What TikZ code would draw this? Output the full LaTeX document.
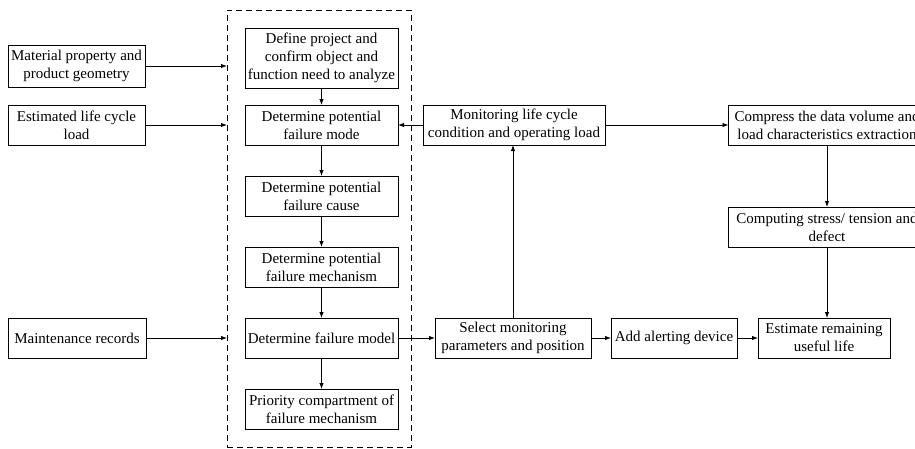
\documentclass[tikz,border=0pt]{standalone}
\usepackage{fontspec}
\setmainfont{Liberation Serif}
\usetikzlibrary{positioning,arrows.meta}

\begin{document}
\begin{tikzpicture}[x=1pt,y=-1pt,
		font=\fontsize{15}{18}\selectfont,
		box/.style={draw, line width=0.9pt, align=center, minimum height=40pt, inner sep=1pt, outer sep=0pt},
		arr/.style={-{Latex[length=6pt,width=4.5pt]}, line width=0.9pt}]
		\clip (0,0) rectangle (915,448);
		% dashed frame round the analysis steps
		\node (frame) [draw, dash pattern=on 6pt off 4pt, line width=0.9pt, minimum width=184pt, minimum height=437pt, inner sep=0pt, outer sep=0pt] at (319,228.5) {};
		% analysis column
		\node (define) [box, minimum width=153pt, minimum height=60pt] at (321.5,58) {Define project and\\confirm object and\\function need to analyze};
		\node (mode) [box, minimum width=153pt, below=17pt of define] {Determine potential\\failure mode};
		\node (cause) [box, minimum width=153pt, below=31pt of mode] {Determine potential\\failure cause};
		\node (mech) [box, minimum width=153pt, below=31pt of cause] {Determine potential\\failure mechanism};
		\node (model) [box, minimum width=153pt, below=31pt of mech] {Determine failure model};
		\node (prio) [box, minimum width=153pt, below=31pt of model] {Priority compartment of\\failure mechanism};
		% inputs
		\node (mat) [box, minimum width=137pt, minimum height=42pt] at (76.5,66) {Material property and\\product geometry};
		\node (est) [box, minimum width=137pt] at (76.5,125) {Estimated life cycle\\load};
		\node (maint) [box, minimum width=138pt] at (77,338) {Maintenance records};
		% monitoring side
		\node (monitor) [box, minimum width=182pt] at (514,125) {Monitoring life cycle\\condition and operating load};
		\node (compress) [box, minimum width=197pt] at (827,125) {Compress the data volume and\\load characteristics extraction};
		\node (compute) [box, minimum width=197pt, below=62pt of compress] {Computing stress/ tension and\\defect};
		\node (select) [box, minimum width=156pt] at (513,338) {Select monitoring\\parameters and position};
		\node (alert) [box, minimum width=126pt, right=20pt of select] {Add alerting device};
		\node (estimate) [box, minimum width=132pt, right=21pt of alert] {Estimate remaining\\useful life};
		\draw [arr] (mat) -- (mat -| frame.west);
		\draw [arr] (est) -- (est -| frame.west);
		\draw [arr] (maint) -- (maint -| frame.west);
		\draw [arr] (define) -- (mode);
		\draw [arr] (mode) -- (cause);
		\draw [arr] (cause) -- (mech);
		\draw [arr] (mech) -- (model);
		\draw [arr] (model) -- (prio);
		\draw [arr] (model) -- (select);
		\draw [arr] (select) -- (alert);
		\draw [arr] (alert) -- (estimate);
		\draw [arr] (select.north) -- (select.north |- monitor.south);
		\draw [arr] (monitor) -- (mode);
		\draw [arr] (monitor) -- (compress);
		\draw [arr] (compress) -- (compute);
		\draw [arr] (compute.south) -- (compute.south |- estimate.north);
\end{tikzpicture}
\end{document}
